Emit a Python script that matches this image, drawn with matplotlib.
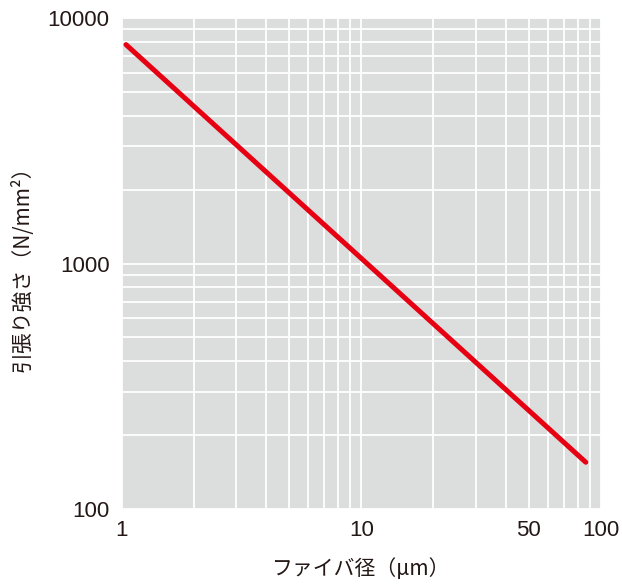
import matplotlib
matplotlib.use("Agg")
import matplotlib.pyplot as plt
from matplotlib.ticker import FixedLocator, LogLocator, NullFormatter

# ファイバ径と引張り強さ
fiber_diameter = [1.04, 86.5]      # μm
tensile_strength = [7800, 155]     # N/mm2

xtick_values = [1, 10, 50, 100]
xtick_labels = ['1', '10', '50', '100']
ytick_values = [100, 1000, 10000]
ytick_labels = ['100', '1000', '10000']

jp_font = ['Noto Sans CJK JP', 'DejaVu Sans']
num_font = ['Liberation Sans', 'DejaVu Sans']

fig = plt.figure(figsize=(6.22, 5.85), dpi=100)
ax = fig.add_axes([0.196, 0.130, 0.770, 0.839])
ax.set_facecolor('#dcdddd')

ax.set_xscale('log')
ax.set_yscale('log')
ax.set_xlim(1, 100)
ax.set_ylim(100, 10000)

ax.plot(fiber_diameter, tensile_strength, color='#e60012', linewidth=3.6,
        solid_capstyle='round', zorder=3)

ax.xaxis.set_major_locator(FixedLocator(xtick_values))
ax.yaxis.set_major_locator(FixedLocator(ytick_values))
ax.xaxis.set_minor_locator(LogLocator(base=10, subs=range(2, 10)))
ax.yaxis.set_minor_locator(LogLocator(base=10, subs=range(2, 10)))
ax.xaxis.set_minor_formatter(NullFormatter())
ax.yaxis.set_minor_formatter(NullFormatter())
ax.set_xticklabels(xtick_labels, family=num_font, fontsize=16, color='#231815')
ax.set_yticklabels(ytick_labels, family=num_font, fontsize=16, color='#231815')

ax.grid(which='both', color='white', linewidth=1.3, zorder=1)
ax.set_axisbelow(True)
ax.tick_params(which='both', length=0)
ax.tick_params(axis='x', pad=8)
ax.tick_params(axis='y', pad=9)
for s in ax.spines.values():
    s.set_visible(False)

ax.set_xlabel('ファイバ径（μm）', family=jp_font, fontsize=15, color='#231815',
              labelpad=12)
ax.set_ylabel('引張り強さ（N/mm²）', family=jp_font, fontsize=15, color='#231815',
              labelpad=10)

fig.savefig('out.png', dpi=100)
